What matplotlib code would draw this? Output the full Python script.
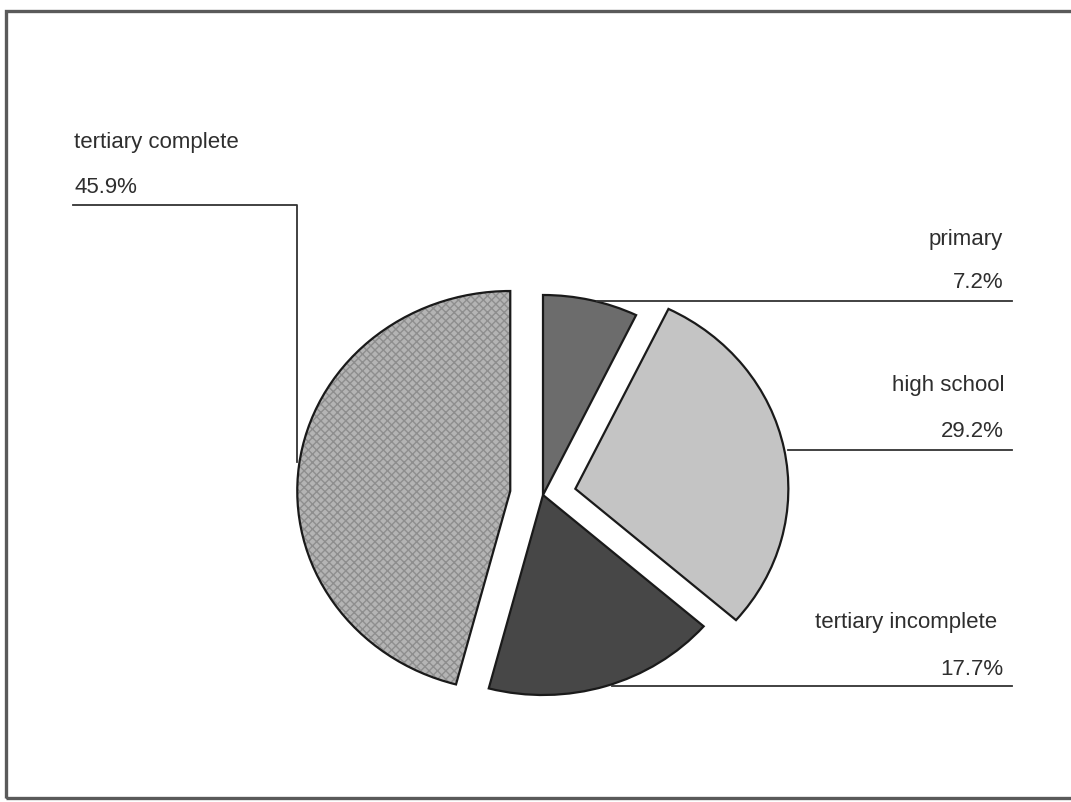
import matplotlib.pyplot as plt
from matplotlib.patches import Wedge, Rectangle

plt.rcParams["font.family"] = ["Liberation Sans", "DejaVu Sans"]

# --- données ---
categories = ["primary", "high school", "tertiary incomplete", "tertiary complete"]
shares = [7.2, 29.2, 17.7, 45.9]
explode = [0, 0.155, 0, 0.155]
colors = ["#6c6c6c", "#c4c4c4", "#474747", "#b0b0b0"]

W, H = 1071, 802
CX, CY = 543, 495       # centre du camembert (px)
RX, RY = 213, 200       # rayons (scan légèrement étiré)

fig = plt.figure(figsize=(W / 100, H / 100), dpi=100)
ax = fig.add_axes([0, 0, 1, 1])


def px(x, y):
    # pixels (origine en haut à gauche) -> coordonnées données
    return (x - CX) / RX, (CY - y) / RY


wedges, _ = ax.pie(shares, explode=explode, colors=colors, startangle=90,
                   counterclock=False, radius=1.0,
                   wedgeprops=dict(edgecolor="#1a1a1a", linewidth=1.6))
ax.set_aspect("auto")
ax.set_xlim(-CX / RX, (W - CX) / RX)
ax.set_ylim(-(H - CY) / RY, CY / RY)
ax.axis("off")

# motif quadrillé sur "tertiary complete"
w = wedges[3]
z = w.zorder
ax.add_patch(Wedge(w.center, w.r, w.theta1, w.theta2, facecolor="#b4b4b4",
                   edgecolor="none", zorder=z - 0.1))
ax.add_patch(Wedge(w.center, w.r, w.theta1, w.theta2, facecolor="none",
                   edgecolor="#8e8e8e", hatch="xxxx", linewidth=0, zorder=z + 0.1))
w.set_facecolor("none")
w.set_zorder(z + 0.2)

# --- étiquettes et traits de rappel ---
txt = dict(fontsize=16, color="#2e2e2e", va="baseline")
lc = dict(color="#333333", linewidth=1.3)

# primary
ax.plot(*zip(px(597, 301), px(1012, 301)), **lc)
ax.text(*px(1003, 245), categories[0], ha="right", **txt)
ax.text(*px(1003, 288), f"{shares[0]}%", ha="right", **txt)

# high school
ax.plot(*zip(px(788, 450), px(1012, 450)), **lc)
ax.text(*px(1004, 391), categories[1], ha="right", **txt)
ax.text(*px(1004, 437), f"{shares[1]}%", ha="right", **txt)

# tertiary incomplete
ax.plot(*zip(px(612, 686), px(1012, 686)), **lc)
ax.text(*px(997, 628), categories[2], ha="right", **txt)
ax.text(*px(1003, 675), f"{shares[2]}%", ha="right", **txt)

# tertiary complete
ax.plot(*zip(px(73, 205), px(297, 205), px(297, 462)), **lc)
ax.text(*px(74, 148), categories[3], ha="left", **txt)
ax.text(*px(74, 193), f"{shares[3]}%", ha="left", **txt)

# cadre (bord droit hors image comme sur le scan)
fig.patches.append(Rectangle((6 / W, 4 / H), (W + 10) / W, (H - 15) / H,
                             transform=fig.transFigure, fill=False,
                             edgecolor="#5a5a5a", linewidth=2.4))

fig.savefig("out.png", dpi=100)
